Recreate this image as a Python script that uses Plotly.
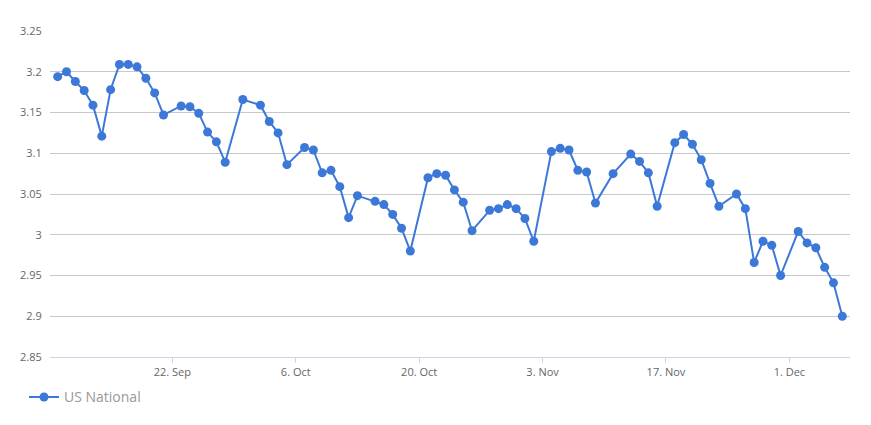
import plotly.graph_objects as go

dates = [
    "2019-09-09", "2019-09-10", "2019-09-11", "2019-09-12", "2019-09-13", "2019-09-14",
    "2019-09-15", "2019-09-16", "2019-09-17", "2019-09-18", "2019-09-19", "2019-09-20",
    "2019-09-21", "2019-09-23", "2019-09-24", "2019-09-25", "2019-09-26", "2019-09-27",
    "2019-09-28", "2019-09-30", "2019-10-02", "2019-10-03", "2019-10-04", "2019-10-05",
    "2019-10-07", "2019-10-08", "2019-10-09", "2019-10-10", "2019-10-11", "2019-10-12",
    "2019-10-13", "2019-10-15", "2019-10-16", "2019-10-17", "2019-10-18", "2019-10-19",
    "2019-10-21", "2019-10-22", "2019-10-23", "2019-10-24", "2019-10-25", "2019-10-26",
    "2019-10-28", "2019-10-29", "2019-10-30", "2019-10-31", "2019-11-01", "2019-11-02",
    "2019-11-04", "2019-11-05", "2019-11-06", "2019-11-07", "2019-11-08", "2019-11-09",
    "2019-11-11", "2019-11-13", "2019-11-14", "2019-11-15", "2019-11-16", "2019-11-18",
    "2019-11-19", "2019-11-20", "2019-11-21", "2019-11-22", "2019-11-23", "2019-11-25",
    "2019-11-26", "2019-11-27", "2019-11-28", "2019-11-29", "2019-11-30", "2019-12-02",
    "2019-12-03", "2019-12-04", "2019-12-05", "2019-12-06", "2019-12-07",
]

us_national = [
    3.194, 3.200, 3.188, 3.177, 3.159, 3.121,
    3.178, 3.209, 3.209, 3.206, 3.192, 3.174,
    3.147, 3.158, 3.157, 3.149, 3.126, 3.114,
    3.089, 3.166, 3.159, 3.139, 3.125, 3.086,
    3.107, 3.104, 3.076, 3.079, 3.059, 3.021,
    3.048, 3.041, 3.037, 3.025, 3.008, 2.980,
    3.070, 3.075, 3.073, 3.055, 3.040, 3.005,
    3.030, 3.032, 3.037, 3.032, 3.020, 2.992,
    3.102, 3.106, 3.104, 3.079, 3.077, 3.039,
    3.075, 3.099, 3.090, 3.076, 3.035, 3.113,
    3.123, 3.111, 3.092, 3.063, 3.035, 3.050,
    3.032, 2.966, 2.992, 2.987, 2.950, 3.004,
    2.990, 2.984, 2.960, 2.941, 2.900,
]

x_tick_vals = ["2019-09-22", "2019-10-06", "2019-10-20", "2019-11-03", "2019-11-17", "2019-12-01"]
x_tick_text = ["22. Sep", "6. Oct", "20. Oct", "3. Nov", "17. Nov", "1. Dec"]
y_tick_vals = [2.85, 2.9, 2.95, 3.0, 3.05, 3.1, 3.15, 3.2, 3.25]
y_tick_text = ["2.85", "2.9", "2.95", "3", "3.05", "3.1", "3.15", "3.2", "3.25"]

color = "#3c78d8"

fig = go.Figure()
fig.add_trace(go.Scatter(
    x=dates, y=us_national, mode="lines+markers", name="US National",
    line=dict(color=color, width=2),
    marker=dict(color=color, size=9, line=dict(width=0)),
))

# the page body has an 8px default margin, so the figure is made 8px smaller
fig.update_layout(
    width=863, height=417,
    margin=dict(l=42, r=21, t=23, b=68),
    paper_bgcolor="white", plot_bgcolor="white",
    font=dict(family="Open Sans, sans-serif", color="#666666", size=11),
    showlegend=True,
    legend=dict(
        orientation="h", x=-0.0325, xanchor="left", y=-0.124, yanchor="middle",
        font=dict(size=14, color="#999999"), bgcolor="rgba(0,0,0,0)",
    ),
    xaxis=dict(
        type="date",
        range=["2019-09-08 03:02", "2019-12-07 20:58"],
        tickvals=x_tick_vals, ticktext=x_tick_text,
        showgrid=False, zeroline=False,
        showline=True, linecolor="#ccd6eb", linewidth=1,
        ticks="outside", ticklen=5, tickcolor="#ccd6eb",
        tickfont=dict(size=11, color="#666666"),
    ),
    yaxis=dict(
        range=[2.85, 3.25],
        tickvals=y_tick_vals, ticktext=y_tick_text,
        showgrid=True, gridcolor="#c8c8c8", gridwidth=1,
        zeroline=False, showline=False,
        ticks="outside", ticklen=5, tickcolor="rgba(0,0,0,0)",
        tickfont=dict(size=11, color="#666666"),
    ),
)

fig.write_html("out.html")
